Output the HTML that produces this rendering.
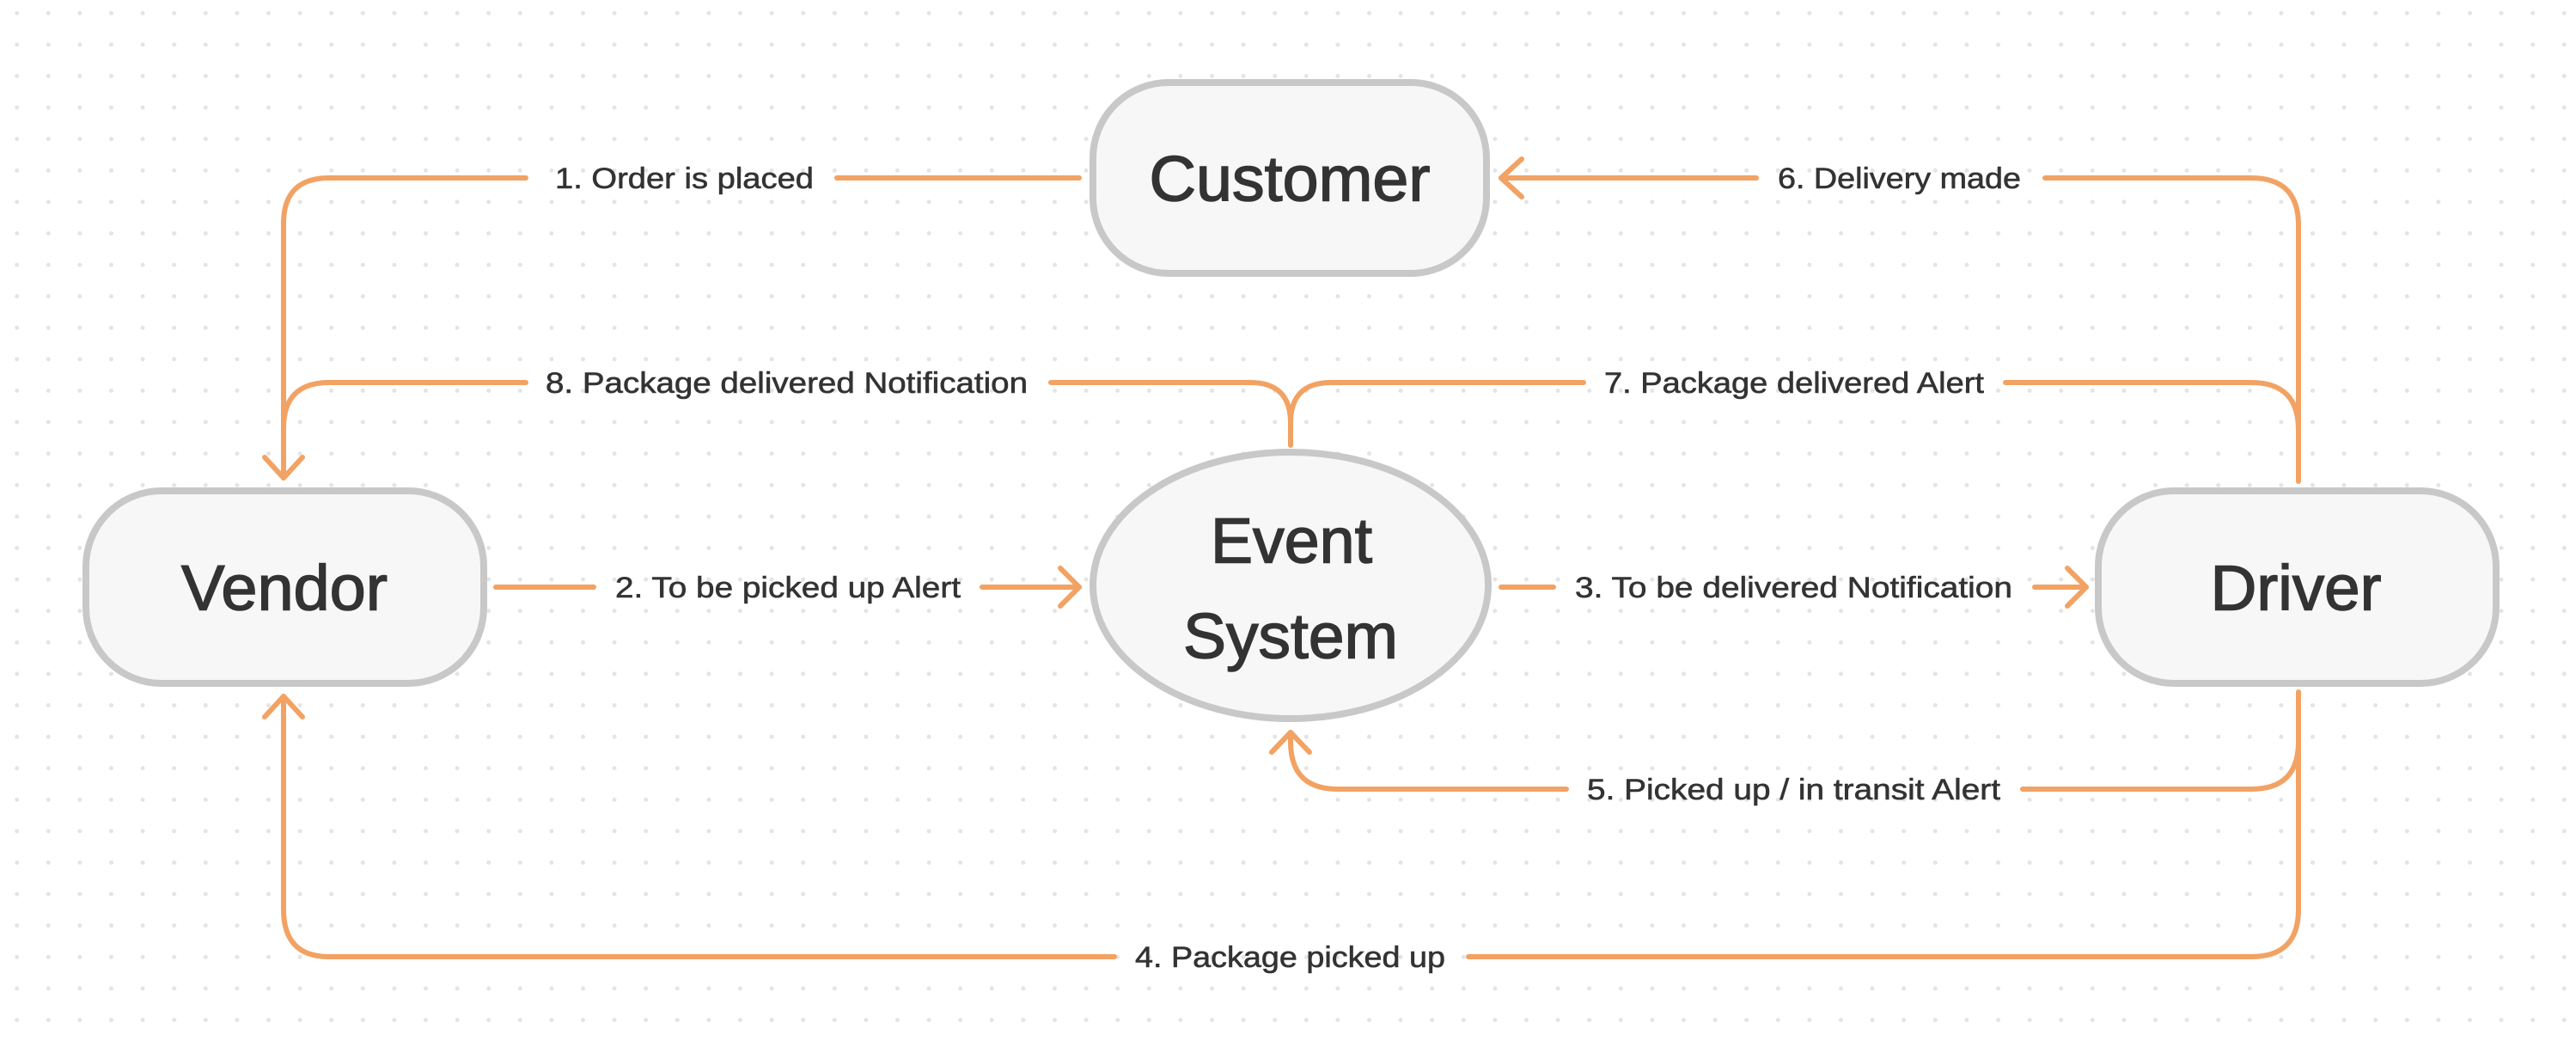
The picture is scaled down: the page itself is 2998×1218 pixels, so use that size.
<!DOCTYPE html>
<html><head><meta charset="utf-8"><style>
html,body{margin:0;padding:0;background:#fff;}
svg{display:block;}
text{font-family:"Liberation Sans",Arial,sans-serif;fill:#333;}
</style></head><body>
<svg width="2998" height="1218" viewBox="0 0 2998 1218" xmlns="http://www.w3.org/2000/svg">
<defs>
<pattern id="dots" patternUnits="userSpaceOnUse" x="1.4" y="-3" width="36.6" height="36.6">
<circle cx="18.3" cy="18.3" r="2.5" fill="#e4e4e4"/>
</pattern>
</defs>
<rect width="2998" height="1218" fill="#fff"/>
<rect width="2998" height="1218" fill="url(#dots)"/>

<g fill="none" stroke="#F2A263" stroke-width="6" stroke-linecap="round" stroke-linejoin="round">
<path d="M1256,207 H974"/>
<path d="M612,207 H383 Q330,207 330,260 V556"/>
<path d="M308,532 L330,556 L352,532"/>
<path d="M1502,518 V492 Q1502,445 1455,445 H1223"/>
<path d="M612,445 H383 Q330,445 330,498"/>
<path d="M1502,492 Q1502,445 1549,445 H1843"/>
<path d="M2334,445 H2620 Q2675,445 2675,500"/>
<path d="M2675,560 V262 Q2675,207 2620,207 H2380"/>
<path d="M2044,207 H1747"/>
<path d="M1771,185 L1747,207 L1771,229"/>
<path d="M577,683 H691"/>
<path d="M1143,683 H1256"/>
<path d="M1234,661 L1256,683 L1234,705"/>
<path d="M1747,683 H1808"/>
<path d="M2368,683 H2428"/>
<path d="M2406,661 L2428,683 L2406,705"/>
<path d="M2675,805 V863 Q2675,918 2620,918 H2354"/>
<path d="M1823,918 H1557 Q1502,918 1502,863 V852"/>
<path d="M1480,875 L1502,852 L1524,875"/>
<path d="M2675,863 V1058 Q2675,1113 2620,1113 H1709"/>
<path d="M1297,1113 H383 Q330,1113 330,1058 V810"/>
<path d="M308,834 L330,810 L352,834"/>
</g>

<g fill="#f7f7f7" stroke="#c8c8c8" stroke-width="8">
<rect x="1272" y="96" width="458" height="222" rx="88"/>
<rect x="100" y="571" width="463" height="224" rx="88"/>
<rect x="2442" y="571" width="463" height="224" rx="88"/>
<ellipse cx="1502" cy="681" rx="230" ry="155"/>
</g>

<g font-size="74" text-anchor="middle" dominant-baseline="central" stroke="#333" stroke-width="1.5">
<text x="1501" y="208" textLength="327" lengthAdjust="spacingAndGlyphs">Customer</text>
<text x="331" y="684" textLength="240" lengthAdjust="spacingAndGlyphs">Vendor</text>
<text x="2672" y="684" textLength="199" lengthAdjust="spacingAndGlyphs">Driver</text>
<text x="1503" y="629" textLength="188" lengthAdjust="spacingAndGlyphs">Event</text>
<text x="1502" y="740" textLength="250" lengthAdjust="spacingAndGlyphs">System</text>
</g>

<g font-size="34" dominant-baseline="central" stroke="#333" stroke-width="0.6">
<text x="646" y="208" textLength="301" lengthAdjust="spacingAndGlyphs">1.  Order is placed</text>
<text x="635" y="446" textLength="561" lengthAdjust="spacingAndGlyphs">8. Package delivered Notification</text>
<text x="1867" y="446" textLength="442" lengthAdjust="spacingAndGlyphs">7. Package delivered Alert</text>
<text x="2069" y="208" textLength="283" lengthAdjust="spacingAndGlyphs">6. Delivery made</text>
<text x="716" y="684" textLength="402" lengthAdjust="spacingAndGlyphs">2. To be picked up Alert</text>
<text x="1833" y="684" textLength="509" lengthAdjust="spacingAndGlyphs">3. To be delivered Notification</text>
<text x="1847" y="919" textLength="481" lengthAdjust="spacingAndGlyphs">5. Picked up / in transit Alert</text>
<text x="1321" y="1114" textLength="361" lengthAdjust="spacingAndGlyphs">4. Package picked up</text>
</g>
</svg>
</body></html>
